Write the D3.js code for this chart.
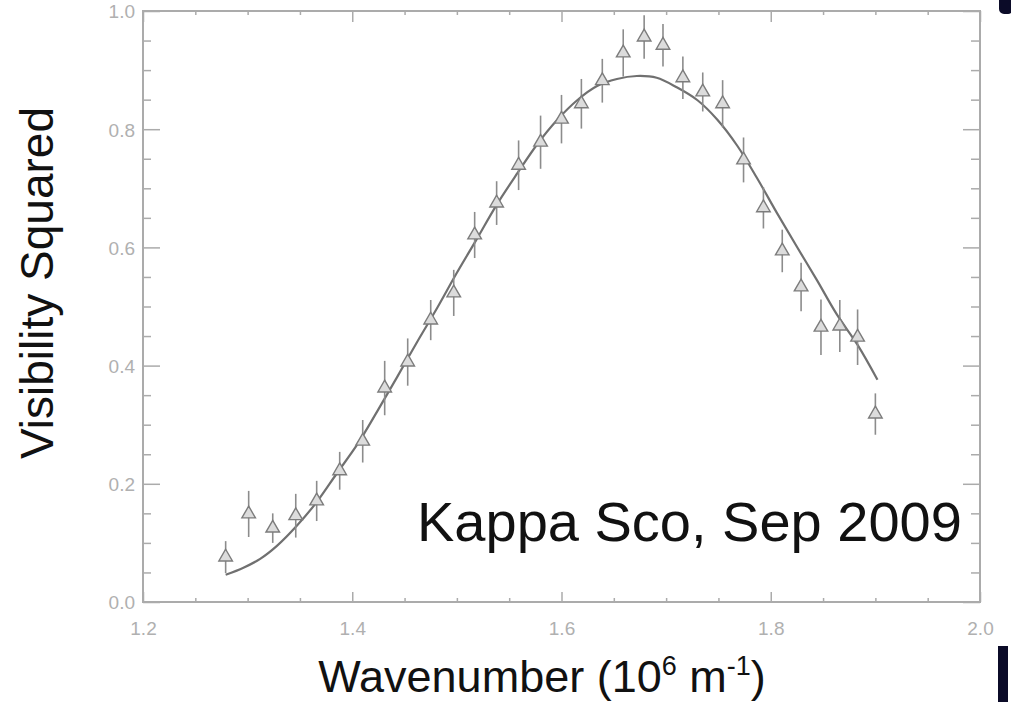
<!DOCTYPE html>
<html>
<head>
<meta charset="utf-8">
<script src="https://cdn.jsdelivr.net/npm/d3@7"></script>
<style>
  html, body { margin: 0; padding: 0; background: #ffffff; }
  svg { display: block; }
</style>
</head>
<body>
<svg id="chart" width="1011" height="702"></svg>
<script>
// ---- data ----
const pointX = [1.279, 1.301, 1.324, 1.346, 1.366, 1.388, 1.410, 1.431, 1.453, 1.475, 1.497, 1.517, 1.538, 1.559, 1.580, 1.600,
                1.619, 1.639, 1.659, 1.679, 1.697, 1.716, 1.735, 1.754, 1.774, 1.793, 1.811, 1.829, 1.848, 1.866, 1.883, 1.900];
const pointY = [0.076, 0.149, 0.125, 0.146, 0.171, 0.222, 0.272, 0.362, 0.406, 0.477, 0.523, 0.621, 0.675, 0.739, 0.778, 0.817,
                0.843, 0.882, 0.929, 0.956, 0.942, 0.887, 0.863, 0.843, 0.748, 0.667, 0.594, 0.533, 0.465, 0.467, 0.448, 0.318];
const pointErr = [0.027, 0.039, 0.025, 0.037, 0.034, 0.032, 0.036, 0.046, 0.040, 0.034, 0.039, 0.039, 0.037, 0.042, 0.045, 0.041,
                  0.042, 0.037, 0.040, 0.037, 0.036, 0.036, 0.033, 0.040, 0.038, 0.035, 0.036, 0.041, 0.047, 0.044, 0.047, 0.035];

const fitX = [1.279, 1.296, 1.312, 1.328, 1.347, 1.366, 1.385, 1.405, 1.424, 1.443, 1.462, 1.481, 1.500, 1.519, 1.538, 1.558, 1.577,
              1.596, 1.615, 1.634, 1.653, 1.672, 1.691, 1.710, 1.730, 1.749, 1.768, 1.787, 1.806, 1.825, 1.844, 1.863, 1.883, 1.902];
const fitY = [0.046, 0.058, 0.073, 0.095, 0.129, 0.169, 0.217, 0.267, 0.323, 0.381, 0.440, 0.497, 0.557, 0.614, 0.672, 0.726, 0.775,
              0.816, 0.849, 0.873, 0.885, 0.890, 0.887, 0.871, 0.849, 0.816, 0.772, 0.717, 0.658, 0.601, 0.545, 0.487, 0.435, 0.376];

const xMajorTicks = [1.2, 1.4, 1.6, 1.8, 2.0];
const xTickLabels = ["1.2", "1.4", "1.6", "1.8", "2.0"];
const yMajorTicks = [0.0, 0.2, 0.4, 0.6, 0.8, 1.0];
const yTickLabels = ["0.0", "0.2", "0.4", "0.6", "0.8", "1.0"];
const xTitle = ["Wavenumber (10", "6", " m", "-1", ")"];
const yTitle = "Visibility Squared";
const annotation = "Kappa Sco, Sep 2009";

// ---- layout ----
const svg = d3.select("#chart");
const L = 143, R = 980, T = 11, B = 602;
const x = d3.scaleLinear().domain([1.2, 2.0]).range([L, R]);
const y = d3.scaleLinear().domain([0, 1]).range([B, T]);

const axisColor = "#ababab";
const labelColor = "#b0b0b0";
const font = "Liberation Sans, Arial, Helvetica, sans-serif";

const xMinor = d3.range(1.2, 2.0001, 0.05).map(v => +v.toFixed(2));
const yMinor = d3.range(0, 1.0001, 0.05).map(v => +v.toFixed(2));
const isMajor = (v, arr) => arr.some(m => Math.abs(m - v) < 1e-6);

const g = svg.append("g");

const axBottom = g.append("g").attr("transform", `translate(0,${B})`)
  .call(d3.axisBottom(x).tickValues(xMinor).tickSize(0).tickFormat(""));
axBottom.select(".domain").remove();
axBottom.selectAll(".tick line").attr("y2", d => isMajor(d, xMajorTicks) ? -10 : -4)
  .attr("stroke", axisColor).attr("stroke-width", 1.5);

const axTop = g.append("g").attr("transform", `translate(0,${T})`)
  .call(d3.axisTop(x).tickValues(xMinor).tickSize(0).tickFormat(""));
axTop.select(".domain").remove();
axTop.selectAll(".tick line").attr("y2", d => isMajor(d, xMajorTicks) ? 11 : 4)
  .attr("stroke", axisColor).attr("stroke-width", 1.5);

const axLeft = g.append("g").attr("transform", `translate(${L},0)`)
  .call(d3.axisLeft(y).tickValues(yMinor).tickSize(0).tickFormat(""));
axLeft.select(".domain").remove();
axLeft.selectAll(".tick line").attr("x2", d => isMajor(d, yMajorTicks) ? 17 : 8)
  .attr("stroke", axisColor).attr("stroke-width", 1.5);

const axRight = g.append("g").attr("transform", `translate(${R},0)`)
  .call(d3.axisRight(y).tickValues(yMinor).tickSize(0).tickFormat(""));
axRight.select(".domain").remove();
axRight.selectAll(".tick line").attr("x2", d => isMajor(d, yMajorTicks) ? -17 : -9)
  .attr("stroke", axisColor).attr("stroke-width", 1.5);

g.append("rect").attr("x", L).attr("y", T).attr("width", R - L).attr("height", B - T)
  .attr("fill", "none").attr("stroke", axisColor).attr("stroke-width", 2);

const xl = g.append("g").attr("transform", `translate(0,${B})`)
  .call(d3.axisBottom(x).tickValues(xMajorTicks).tickSize(0).tickPadding(0)
    .tickFormat((d, i) => xTickLabels[i]));
xl.select(".domain").remove();
xl.selectAll("text").attr("y", 33).attr("dy", 0).attr("fill", labelColor)
  .attr("font-family", font).attr("font-size", 19);

const yl = g.append("g").attr("transform", `translate(${L},0)`)
  .call(d3.axisLeft(y).tickValues(yMajorTicks).tickSize(0).tickPadding(0)
    .tickFormat((d, i) => yTickLabels[i]));
yl.select(".domain").remove();
yl.selectAll("text").attr("x", -8).attr("dy", "0.36em").attr("fill", labelColor)
  .attr("font-family", font).attr("font-size", 19);

const line = d3.line().x(d => x(d[0])).y(d => y(d[1])).curve(d3.curveCatmullRom.alpha(0.5));
g.append("path").datum(fitX.map((v, i) => [v, fitY[i]]))
  .attr("d", line).attr("fill", "none").attr("stroke", "#707070").attr("stroke-width", 2.2);

const pts = pointX.map((v, i) => ({ x: v, y: pointY[i], e: pointErr[i] }));
g.append("g").selectAll("line").data(pts).join("line")
  .attr("x1", d => x(d.x)).attr("x2", d => x(d.x))
  .attr("y1", d => y(d.y - d.e)).attr("y2", d => y(d.y + d.e))
  .attr("stroke", "#8c8c8c").attr("stroke-width", 1.6);

const tri = d3.symbol().type(d3.symbolTriangle).size(80);
g.append("g").selectAll("path").data(pts).join("path")
  .attr("d", tri)
  .attr("transform", d => `translate(${x(d.x)},${y(d.y)})`)
  .attr("fill", "#dcdcdc").attr("stroke", "#7c7c7c").attr("stroke-width", 1.4);

svg.append("text").attr("x", 417).attr("y", 541)
  .attr("font-family", font).attr("font-size", 56)
  .attr("fill", "#111").text(annotation);

const xt = svg.append("text").attr("x", 542).attr("y", 692).attr("text-anchor", "middle")
  .attr("font-family", font).attr("font-size", 45).attr("fill", "#111");
xt.append("tspan").text(xTitle[0]);
xt.append("tspan").attr("font-size", 27).attr("dy", -17).text(xTitle[1]);
xt.append("tspan").attr("dy", 17).text(xTitle[2]);
xt.append("tspan").attr("font-size", 27).attr("dy", -17).text(xTitle[3]);
xt.append("tspan").attr("dy", 17).text(xTitle[4]);

svg.append("text").attr("transform", "translate(53,283) rotate(-90)").attr("text-anchor", "middle")
  .attr("font-family", font).attr("font-size", 46).attr("fill", "#111")
  .text(yTitle);

svg.append("rect").attr("x", 999).attr("y", -6).attr("width", 14).attr("height", 20).attr("rx", 5).attr("fill", "#0b0b28");
svg.append("rect").attr("x", 998).attr("y", 646).attr("width", 10).attr("height", 60).attr("fill", "#0b0b28");
</script>
</body>
</html>
